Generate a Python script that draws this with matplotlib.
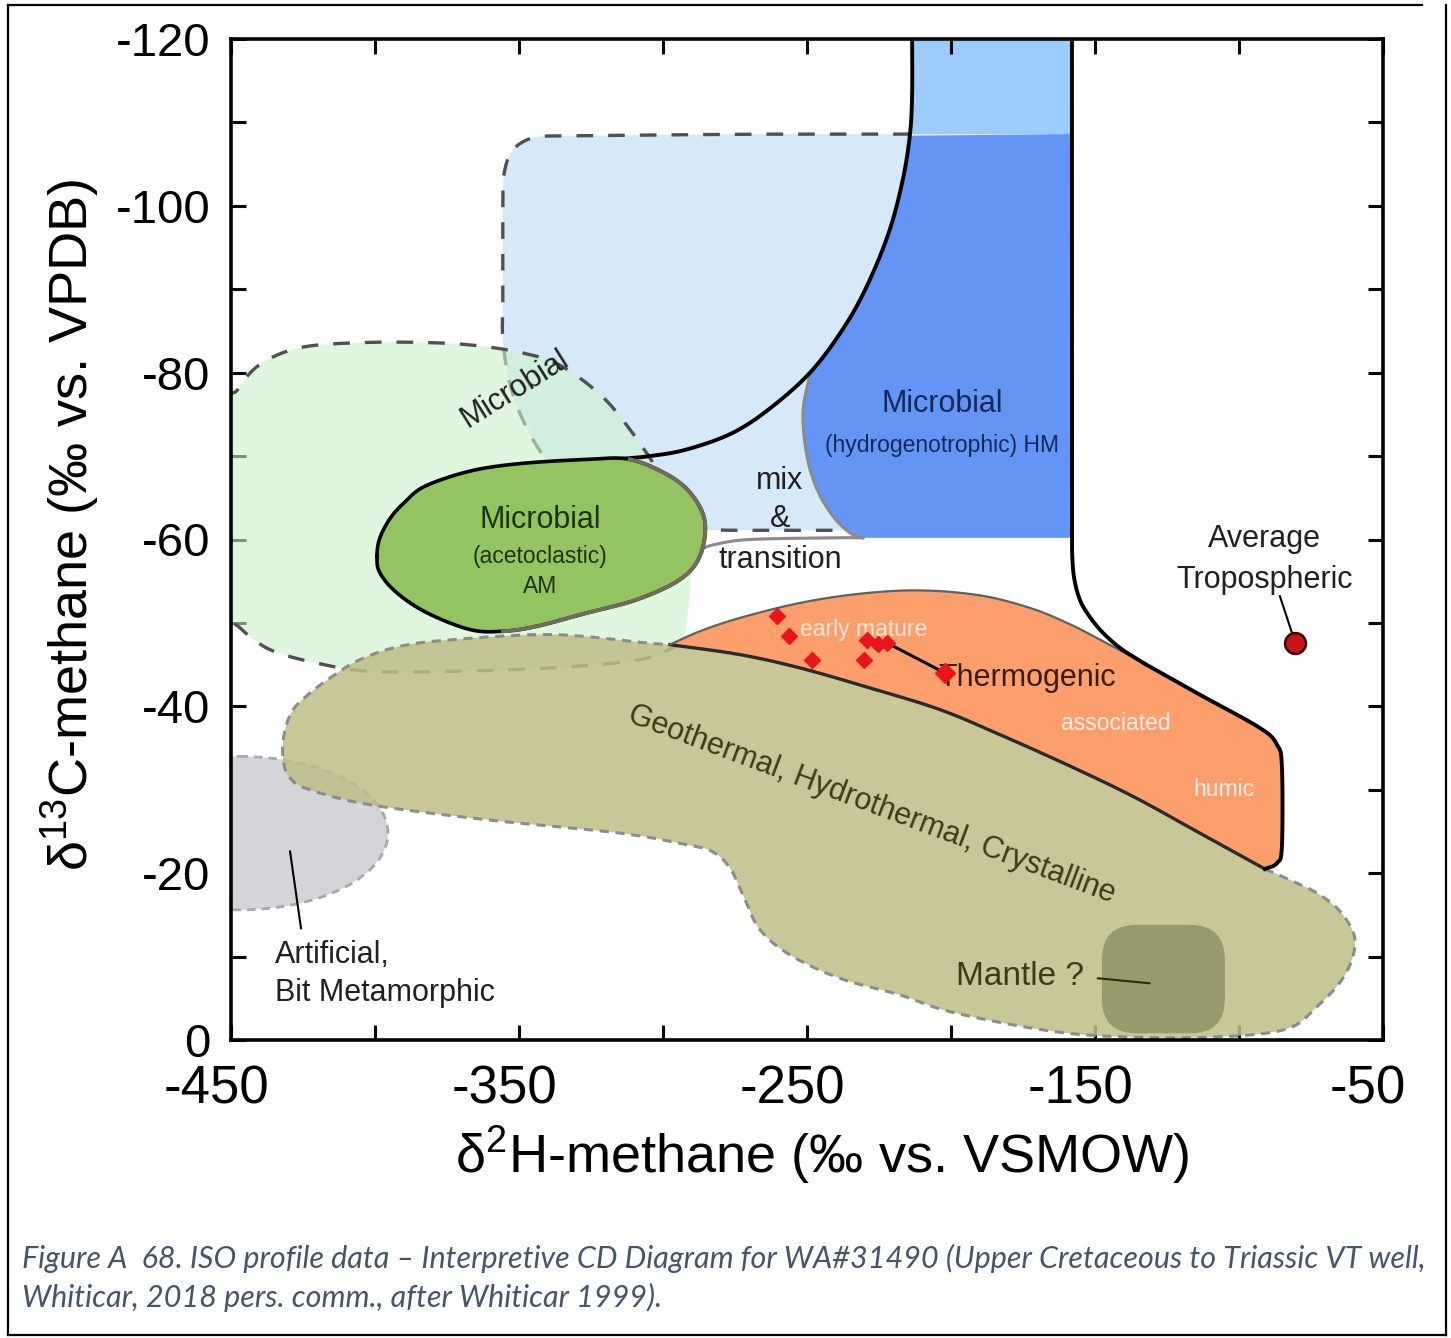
import numpy as np
import matplotlib
matplotlib.use("Agg")
import matplotlib.pyplot as plt
from matplotlib.patches import Polygon, Ellipse, FancyBboxPatch
from matplotlib.lines import Line2D
from matplotlib.transforms import ScaledTranslation

plt.rcParams['font.family'] = ['Liberation Sans', 'DejaVu Sans']
plt.rcParams['mathtext.fontset'] = 'custom'
plt.rcParams['mathtext.rm'] = 'Liberation Sans'
plt.rcParams['mathtext.it'] = 'Liberation Sans:italic'
plt.rcParams['mathtext.bf'] = 'Liberation Sans:bold'
plt.rcParams['axes.unicode_minus'] = False

# ---------------- axis ticks ----------------
x_major = [-450, -350, -250, -150, -50]
x_minor = [-400, -300, -200, -100]
y_major = [0, -20, -40, -60, -80, -100, -120]
y_minor = [-10, -30, -50, -70, -90, -110]

# ---------------- well samples (dD, d13C) ----------------
well_dD = [-260.4, -256.3, -248.3, -230.2, -229.2, -225.3, -222.2, -202.1]
well_d13C = [-50.8, -48.4, -45.6, -45.6, -48.0, -47.5, -47.6, -44.0]

# average tropospheric methane
trop_dD = [-80.6]
trop_d13C = [-47.6]

# ---------------- field boundaries ----------------
# broad microbial (CO2 reduction) field, dashed outline
co2_dD = [-214.3, -260.0, -300.0, -330.0, -342.7, -349.0, -353.1, -355.2,
          -355.6, -355.6, -355.6, -355.6, -353.1, -347.9, -339.2, -325.4,
          -308.0, -287.2, -260.0, -229.9]
co2_d13C = [-108.6, -108.6, -108.5, -108.4, -108.3, -107.6, -106.2, -103.8,
            -100.8, -95.0, -89.0, -84.0, -78.6, -73.8, -69.0, -64.8,
            -61.9, -61.2, -61.1, -61.1]

# broad microbial (fermentation) field
ferm_dD = [-453.0, -453.0, -447.6, -439.9, -426.0, -405.2, -380.9, -363.5,
           -347.9, -335.8, -321.9, -311.5, -301.1, -294.1, -290.6, -291.3,
           -294.1, -308.0, -339.2, -374.0, -401.7, -419.1, -436.5, -447.5]
ferm_d13C = [-52.0, -74.4, -78.0, -81.0, -83.0, -83.6, -83.6, -83.2,
             -82.3, -80.9, -77.4, -73.2, -67.8, -62.4, -56.4, -51.6,
             -47.4, -45.6, -44.6, -44.2, -44.2, -45.1, -46.8, -49.6]

# solid boundary of the microbial domain (left branch)
micro_edge_dD = [-213.5, -213.5, -214.3, -216.7, -221.2, -228.1, -236.1,
                 -247.9, -261.8, -275.7, -291.7, -304.5, -316.7]
micro_edge_d13C = [-120.0, -113.2, -108.4, -103.2, -97.2, -91.2, -86.0,
                   -80.4, -76.0, -72.8, -70.8, -70.0, -69.6]

# hydrogenotrophic field, left (grey) limit
hm_left_dD = [-249.0, -251.4, -250.0, -246.5, -241.0, -235.1, -230.6]
hm_left_d13C = [-79.8, -75.2, -70.0, -66.0, -62.8, -60.8, -60.2]
hm_right = -158.0
hm_top = -108.6
hm_bottom = -60.2

# solid boundary on the right (HM edge bending into thermogenic field)
hm_edge_dD = [-158.0, -158.0, -158.0, -158.0, -158.0, -157.9, -157.3,
              -155.8, -153.5, -148.3, -141.3, -132.7]
hm_edge_d13C = [-120.0, -100.0, -80.0, -66.0, -61.0, -58.0, -55.5,
                -53.3, -51.6, -49.2, -47.0, -45.1]

# mix & transition limit
mix_dD = [-287.2, -282.0, -269.8, -241.0, -230.6]
mix_d13C = [-58.8, -59.4, -60.0, -60.2, -60.2]

# acetoclastic field
am_dD = [-399.3, -398.3, -394.6, -389.6, -382.6, -367.0, -349.7, -326.4,
         -311.5, -297.6, -289.6, -285.4, -287.2, -294.1, -309.0, -326.4,
         -343.8, -355.6, -367.0, -381.9, -392.4, -398.3]
am_d13C = [-58.0, -60.2, -62.6, -64.5, -66.4, -68.2, -69.1, -69.6,
           -69.6, -67.6, -65.2, -62.0, -58.0, -55.2, -52.8, -51.2,
           -49.6, -49.0, -49.2, -51.2, -53.6, -56.0]

# thermogenic field: upper/right limit and lower limit
thermo_top_dD = [-297.6, -287.2, -273.3, -252.4, -231.6, -210.8, -189.9,
                 -172.6, -159.7, -148.3, -132.7, -113.6, -92.7, -86.8,
                 -85.1, -85.1, -86.8, -91.0]
thermo_top_d13C = [-47.4, -49.0, -50.6, -52.4, -53.5, -53.9, -53.3,
                   -51.8, -50.0, -48.0, -45.1, -41.4, -37.4, -35.4,
                   -32.8, -23.2, -21.2, -20.5]
thermo_base_dD = [-297.6, -273.3, -252.4, -228.1, -203.8, -183.0, -159.7,
                  -136.8, -113.6, -91.0]
thermo_base_d13C = [-47.4, -46.2, -44.6, -42.2, -39.6, -36.6, -33.0,
                    -29.2, -24.8, -20.5]

# geothermal / hydrothermal / crystalline field (outside the thermogenic limit)
geo_dD = [-91.0, -82.3, -71.9, -63.9, -59.7, -63.2, -72.9, -84.7, -113.6,
          -148.3, -171.5, -200.4, -217.7, -238.6, -255.9, -266.3, -271.5,
          -276.7, -283.0, -291.7, -314.9, -361.1, -401.7, -422.6, -429.5,
          -431.9, -431.6, -428.8, -423.6, -415.6, -405.2, -391.3, -372.9,
          -338.2, -305.6, -297.6]
geo_d13C = [-20.5, -19.2, -17.4, -15.0, -11.8, -7.8, -4.0, -1.2, -0.3,
            -0.5, -1.4, -3.4, -5.4, -7.4, -10.2, -13.2, -16.8,
            -20.6, -22.6, -23.4, -24.8, -26.4, -28.2, -30.0, -31.4,
            -33.6, -36.6, -39.4, -41.3, -43.4, -45.6, -47.2, -48.0,
            -48.6, -47.6, -47.4]

# artificial / bit metamorphism field (centre, full widths)
art_center = (-447.0, -24.8)
art_size = (103.0, 18.4)

# mantle field (corner, widths)
mantle_corner = (-147.6, -13.8)
mantle_size = (42.7, 13.0)


def spline(xs, ys, closed=False, n=14):
    """Catmull-Rom curve through the given vertices."""
    p = np.column_stack([xs, ys]).astype(float)
    if closed:
        pts = np.vstack([p[-1], p, p[0], p[1]])
    else:
        pts = np.vstack([2 * p[0] - p[1], p, 2 * p[-1] - p[-2]])
    t = np.linspace(0, 1, n, endpoint=False)[:, None]
    out = []
    for i in range(1, len(pts) - 2):
        p0, p1, p2, p3 = pts[i - 1], pts[i], pts[i + 1], pts[i + 2]
        out.append(0.5 * (2 * p1 + (-p0 + p2) * t
                          + (2 * p0 - 5 * p1 + 4 * p2 - p3) * t ** 2
                          + (-p0 + 3 * p1 - 3 * p2 + p3) * t ** 3))
    out.append(pts[-2][None, :])
    return np.vstack(out)


fig = plt.figure(figsize=(14.51, 13.38), dpi=100)
ax = fig.add_axes([231 / 1451, 1 - 1040 / 1338, 1152 / 1451, 1001 / 1338])
ax.set_xlim(-450, -50)
ax.set_ylim(0, -120)

dash = (0, (5, 4.5))
fine_dash = (0, (3, 2.2))

# broad CO2-reduction field
co2_curve = spline(co2_dD, co2_d13C)
co2_fill = np.vstack([co2_curve, [[hm_right, co2_d13C[-1]], [hm_right, hm_top]]])
ax.add_patch(Polygon(co2_fill, closed=True, fc='#d6e9f9', ec='none', zorder=1))
ax.add_patch(Polygon([[micro_edge_dD[0], -120], [hm_right, -120],
                      [hm_right, hm_top], [micro_edge_dD[2], hm_top]],
                     closed=True, fc='#9dcbfa', ec='none', zorder=1))
ax.plot(co2_curve[:, 0], co2_curve[:, 1], color='#505050', lw=2.4,
        ls=dash, zorder=2)

# broad fermentation field
ferm_curve = spline(ferm_dD, ferm_d13C, closed=True)
ax.add_patch(Polygon(ferm_curve, closed=True, fc='#cbf3cb', alpha=0.6,
                     ec='none', zorder=3))
ferm_open = spline(ferm_dD[16:] + ferm_dD[:14], ferm_d13C[16:] + ferm_d13C[:14])
ax.plot(ferm_open[:, 0], ferm_open[:, 1], color='#505050', lw=2.4,
        ls=dash, zorder=4)

# hydrogenotrophic field
edge_curve = spline(micro_edge_dD, micro_edge_d13C)
hm_left_curve = spline(hm_left_dD, hm_left_d13C)
sel = (edge_curve[:, 1] >= hm_top) & (edge_curve[:, 1] <= hm_left_d13C[0])
hm_poly = np.vstack([edge_curve[sel], hm_left_curve,
                     [[hm_right, hm_bottom], [hm_right, hm_top]]])
ax.add_patch(Polygon(hm_poly, closed=True, fc='#6495f5', ec='none', zorder=5))
ax.plot(hm_left_curve[:, 0], hm_left_curve[:, 1], color='#8a8a8a', lw=2.2,
        zorder=6)

# mix & transition limit
mix_curve = spline(mix_dD, mix_d13C)
ax.plot(mix_curve[:, 0], mix_curve[:, 1], color='#8a8a8a', lw=2.2, zorder=6)

# solid microbial boundary
ax.plot(edge_curve[:, 0], edge_curve[:, 1], color='black', lw=2.8, zorder=7)

# artificial field
ax.add_patch(Ellipse(art_center, art_size[0], art_size[1], fc='#d4d5d9',
                     ec='#a8a8a8', lw=2.0, ls=fine_dash, zorder=3))

# geothermal field
base_curve = spline(thermo_base_dD, thermo_base_d13C)
geo_curve = spline(geo_dD, geo_d13C)
geo_poly = np.vstack([base_curve, geo_curve])
ax.add_patch(Polygon(geo_poly, closed=True, fc='#bebd86', alpha=0.85,
                     ec='none', zorder=8))
ax.plot(geo_curve[:, 0], geo_curve[:, 1], color='#8c8c8c', lw=2.2,
        ls=fine_dash, zorder=9)

# thermogenic field
top_curve = spline(thermo_top_dD, thermo_top_d13C)
thermo_poly = np.vstack([top_curve, base_curve[::-1]])
ax.add_patch(Polygon(thermo_poly, closed=True, fc='#fd9f6d', ec='none',
                     zorder=10))
ax.plot(base_curve[:, 0], base_curve[:, 1], color='#2a2a2a', lw=2.4, zorder=11)
ax.plot(top_curve[:, 0], top_curve[:, 1], color='#606060', lw=1.6, zorder=11)
right_part = spline(thermo_top_dD[10:], thermo_top_d13C[10:])
ax.plot(right_part[:, 0], right_part[:, 1], color='black', lw=2.8, zorder=12)
hm_edge_curve = spline(hm_edge_dD, hm_edge_d13C)
ax.plot(hm_edge_curve[:, 0], hm_edge_curve[:, 1], color='black', lw=2.8,
        zorder=12)

# acetoclastic field
n_seg = 14
am_curve = spline(am_dD, am_d13C, closed=True, n=n_seg)
ax.add_patch(Polygon(am_curve, closed=True, fc='#94c462', ec='none', zorder=12))
ax.plot(am_curve[:, 0], am_curve[:, 1], color='black', lw=2.6, zorder=13)
gray_part = am_curve[8 * n_seg:17 * n_seg + 1]
ax.plot(gray_part[:, 0], gray_part[:, 1], color='#6e6e5a', lw=2.8, zorder=13)

# mantle field
ax.add_patch(FancyBboxPatch(mantle_corner, mantle_size[0], mantle_size[1],
                            boxstyle='round,pad=0,rounding_size=12',
                            mutation_aspect=8.33 / 2.88 * 0.12,
                            fc='#999a6c', ec='none', zorder=13))

# leader lines
ax.plot([-149.0, -131.1], [-7.4, -6.8], color='#2a2a10', lw=1.5, zorder=14)
ax.plot([-429.5, -425.7], [-22.6, -13.4], color='black', lw=1.5, zorder=14)
ax.plot([-85.8, -81.6], [-53.2, -48.8], color='black', lw=1.5, zorder=14)

# samples
ax.plot(well_dD[-2:], well_d13C[-2:], color='black', lw=2.2, zorder=19)
ax.plot(well_dD[:-1], well_d13C[:-1], ls='none', marker='D', ms=8,
        mfc='#e8151b', mec='#e8151b', zorder=20)
ax.plot(well_dD[-1:], well_d13C[-1:], ls='none', marker='D', ms=10,
        mfc='#e8151b', mec='#e8151b', zorder=20)
ax.plot(trop_dD, trop_d13C, ls='none', marker='o', ms=15, mfc='#c8141c',
        mec='#3a0000', mew=1.8, zorder=20)

# field labels
big, small = 22, 16.5
ax.text(-351.4, -78.0, 'Microbial', rotation=32, ha='center', va='center',
        fontsize=big, color='#202020', zorder=21)
ax.text(-203.1, -76.2, 'Microbial', ha='center', va='center', fontsize=big,
        color='#14285a', zorder=21)
ax.text(-203.1, -71.3, '(hydrogenotrophic) HM', ha='center', va='center',
        fontsize=small, color='#14285a', zorder=21)
ax.text(-259.4, -67.0, 'mix', ha='center', va='center', fontsize=big,
        color='#202020', zorder=21)
ax.text(-259.4, -62.4, '&', ha='center', va='center', fontsize=big,
        color='#202020', zorder=21)
ax.text(-259.4, -57.6, 'transition', ha='center', va='center', fontsize=big,
        color='#202020', zorder=21)
ax.text(-342.7, -62.3, 'Microbial', ha='center', va='center', fontsize=big,
        color='#1d3310', zorder=21)
ax.text(-342.7, -58.0, '(acetoclastic)', ha='center', va='center',
        fontsize=small, color='#1d3310', zorder=21)
ax.text(-342.7, -54.4, 'AM', ha='center', va='center', fontsize=small,
        color='#1d3310', zorder=21)
ax.text(-230.2, -49.2, 'early mature', ha='center', va='center',
        fontsize=small, color='#fde6da', zorder=18)
ax.text(-173.6, -43.4, 'Thermogenic', ha='center', va='center', fontsize=big,
        color='#3a1c0c', zorder=18)
ax.text(-142.7, -38.0, 'associated', ha='center', va='center', fontsize=small,
        color='#fff0e6', zorder=18)
ax.text(-105.2, -30.0, 'humic', ha='center', va='center', fontsize=small,
        color='#fff0e6', zorder=18)
ax.text(-227.4, -28.2, 'Geothermal, Hydrothermal, Crystalline',
        rotation=-20.5, rotation_mode='anchor', ha='center', va='center',
        fontsize=big, color='#3c3c14', zorder=21)
ax.text(-176.1, -7.6, 'Mantle ?', ha='center', va='center', fontsize=24,
        color='#3c3c14', zorder=21)
ax.text(-91.0, -60.0, 'Average', ha='center', va='center', fontsize=big,
        color='#202020', zorder=21)
ax.text(-91.0, -55.2, 'Tropospheric', ha='center', va='center', fontsize=big,
        color='#202020', zorder=21)
ax.text(-434.7, -10.2, 'Artificial,', ha='left', va='center', fontsize=big,
        color='#202020', zorder=21)
ax.text(-434.7, -5.6, 'Bit Metamorphic', ha='left', va='center', fontsize=big,
        color='#202020', zorder=21)

# axes styling
ax.set_xticks(x_major)
ax.set_xticks(x_minor, minor=True)
ax.set_yticks(y_major)
ax.set_yticks(y_minor, minor=True)
ax.set_xticklabels([str(v) for v in x_major])
ax.set_yticklabels([str(v) for v in y_major])
ax.tick_params(which='both', direction='in', length=11, width=2.2,
               top=True, right=True)
ax.tick_params(axis='x', which='major', labelsize=38, pad=18)
ax.tick_params(axis='y', which='major', labelsize=34, pad=15)
for s in ax.spines.values():
    s.set_linewidth(2.6)
    s.set_zorder(30)

# x tick labels sit slightly left of their ticks
shift = ScaledTranslation(-15 / 100, 0, fig.dpi_scale_trans)
for lbl in ax.get_xticklabels():
    lbl.set_transform(lbl.get_transform() + shift)

ax.set_xlabel('δ$^{\\mathregular{2}}$H-methane (‰ vs. VSMOW)', fontsize=39)
ax.xaxis.label.set_va('center')
ax.xaxis.set_label_coords(0.513, -0.1149)
ax.set_ylabel('δ$^{\\mathregular{13}}$C-methane (‰ vs. VPDB)', fontsize=39,
              va='center', ha='center')
ax.yaxis.set_label_coords(-0.1398, 0.5145)

# caption
caption_lines = [
    'Figure A  68. ISO profile data \u2013 Interpretive CD Diagram for WA#31490 '
    '(Upper Cretaceous to Triassic VT well,',
    'Whiticar, 2018 pers. comm., after Whiticar 1999).',
]
cap_kw = dict(ha='left', va='center', style='italic',
              family=['Lato', 'DejaVu Sans'], color='#44546a', fontsize=21)
cap1 = fig.text(22 / 1451, 1 - 1258 / 1338, caption_lines[0], **cap_kw)
cap2 = fig.text(22 / 1451, 1 - 1297 / 1338, caption_lines[1], **cap_kw)
fig.canvas.draw()
w = cap1.get_window_extent(fig.canvas.get_renderer()).width
scale = 1403.0 / w
for c in (cap1, cap2):
    c.set_fontsize(c.get_fontsize() * scale)

# page frame
frame = dict(transform=fig.transFigure, color='black', lw=1.6)
fig.add_artist(Line2D([8 / 1451, 1422 / 1451], [1 - 5 / 1338] * 2, **frame))
fig.add_artist(Line2D([8 / 1451, 8 / 1451], [1 - 5 / 1338, 1 - 1335 / 1338], **frame))
fig.add_artist(Line2D([1446 / 1451, 1446 / 1451], [1 - 5 / 1338, 1 - 1335 / 1338], **frame))
fig.add_artist(Line2D([8 / 1451, 1446 / 1451], [1 - 1335 / 1338] * 2, **frame))

fig.savefig('out.png', dpi=100)
